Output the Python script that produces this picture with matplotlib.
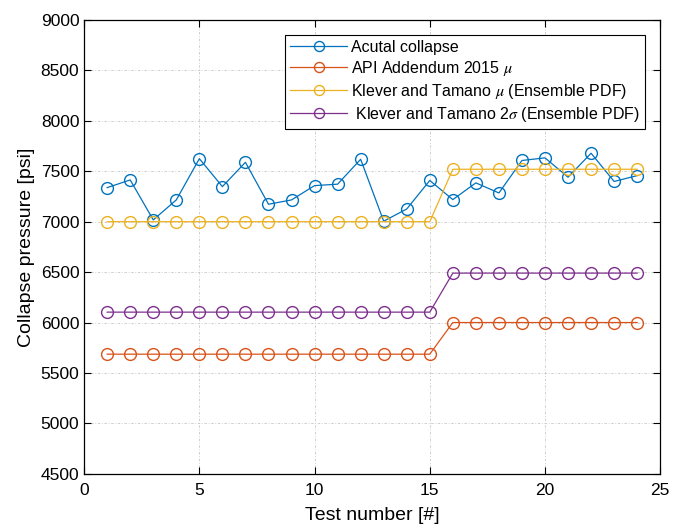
import numpy as np
import matplotlib
matplotlib.use('Agg')
from matplotlib import pyplot as plt

plt.rcParams['font.family'] = ['Liberation Sans', 'DejaVu Sans']
plt.rcParams['mathtext.fontset'] = 'stix'

# test numbers 1..24
tests = list(range(1, 25))

# measured collapse pressure [psi]
actual = [7338, 7414, 7018, 7216, 7625, 7348, 7589, 7173, 7216, 7358, 7372, 7619,
          7005, 7126, 7409, 7219, 7385, 7285, 7607, 7633, 7441, 7679, 7399, 7457]

# model predictions (two groups: tests 1-15 and 16-24)
api_mu = [5686]*15 + [6000]*9
kt_mu = [7000]*15 + [7520]*9
kt_2sig = [6103]*15 + [6490]*9

labels = ['Acutal collapse',
          r'API Addendum 2015 $\mu$',
          r'Klever and Tamano $\mu$ (Ensemble PDF)',
          r' Klever and Tamano 2$\sigma$ (Ensemble PDF)']
colors = ['#0072BD', '#D95319', '#EDB120', '#7E2F8E']

fig = plt.figure(figsize=(6.73, 5.27), dpi=100)
ax = fig.add_axes([0.125, 0.101, 0.856, 0.861])

for vals, lab, c in zip([actual, api_mu, kt_mu, kt_2sig], labels, colors):
	ax.plot(tests, vals, '-o', color=c, mfc='none', mec=c, ms=8.5, lw=0.9, mew=1.0, label=lab)

ax.set_xlim(0, 25)
ax.set_ylim(4500, 9000)
ax.set_xticks([0, 5, 10, 15, 20, 25])
ax.set_yticks(np.arange(4500, 9001, 500))
ax.tick_params(direction='in', top=True, right=True, labelsize=12.5, length=5, width=0.8)
ax.tick_params(axis='x', pad=7)
ax.grid(True, linestyle=(0, (3, 2, 1, 2)), color='#c8c8c8', lw=0.6)
for s in ax.spines.values():
	s.set_linewidth(0.9)

ax.set_xlabel('Test number [#]', fontsize=14, labelpad=6)
ax.set_ylabel('Collapse pressure [psi]', fontsize=14, labelpad=4)

leg = ax.legend(loc='upper right', bbox_to_anchor=(0.974, 0.967), borderaxespad=0, fontsize=11.5,
		handlelength=3.6, fancybox=False, framealpha=1, edgecolor='black', borderpad=0.3,
		labelspacing=0.25, handletextpad=0.25, markerscale=0.85)
leg.get_frame().set_linewidth(0.8)

plt.savefig('out.png', dpi=100)
